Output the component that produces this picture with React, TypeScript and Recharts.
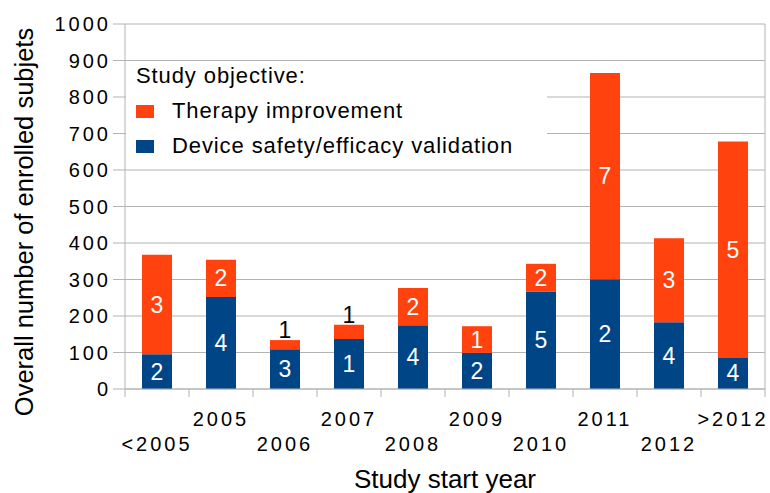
import React from 'react';
import {
  BarChart,
  Bar,
  XAxis,
  YAxis,
  CartesianGrid,
  Legend,
  LabelList,
  Label,
} from 'recharts';

// Values
const years = ['<2005', '2005', '2006', '2007', '2008', '2009', '2010', '2011', '2012', '>2012'];
const deviceSubjects = [95, 252, 109, 137, 175, 99, 267, 301, 183, 85];
const therapySubjects = [273, 102, 25, 39, 102, 73, 76, 565, 230, 593];
const deviceStudies = [2, 4, 3, 1, 4, 2, 5, 2, 4, 4];
const therapyStudies = [3, 2, 1, 1, 2, 1, 2, 7, 3, 5];
const yTicks = [0, 100, 200, 300, 400, 500, 600, 700, 800, 900, 1000];

const BLUE = '#004586';
const ORANGE = '#ff420e';
const GRID = '#b3b3b3';
const FONT = '"Liberation Sans", Arial, sans-serif';
const TICK_SPACING = 3;

const data = years.map((year, i) => ({
  year,
  device: deviceSubjects[i],
  therapy: therapySubjects[i],
  deviceCount: deviceStudies[i],
  therapyCount: therapyStudies[i],
}));

const HALF_BAND = 32;

// staggered year labels, tick marks sit on the band edges
function YearTick(props: any) {
  const { x, y, payload, index } = props;
  const upper = index % 2 === 1;
  return (
    <g>
      <line x1={x - HALF_BAND} y1={y} x2={x - HALF_BAND} y2={y + 8} stroke={GRID} />
      {index === years.length - 1 && (
        <line x1={x + HALF_BAND} y1={y} x2={x + HALF_BAND} y2={y + 8} stroke={GRID} />
      )}
      <text
        x={x}
        y={y + (upper ? 37 : 62)}
        textAnchor="middle"
        fontFamily={FONT}
        fontSize={20}
        letterSpacing={TICK_SPACING}
        fill="#000"
      >
        {payload.value}
      </text>
    </g>
  );
}

function CountLabel(props: any) {
  const { x, y, width, height, value } = props;
  if (value == null) return null;
  const cx = x + width / 2;
  if (height < 26) {
    return (
      <text x={cx} y={y - 2} textAnchor="middle" fontFamily={FONT} fontSize={23} fill="#000">
        {value}
      </text>
    );
  }
  return (
    <text
      x={cx}
      y={y + height / 2 + 8}
      textAnchor="middle"
      fontFamily={FONT}
      fontSize={23}
      fill="#fff"
    >
      {value}
    </text>
  );
}

function LegendBox() {
  const row = (color: string, text: string, top: number) => (
    <div style={{ position: 'absolute', left: 10, top, display: 'flex', alignItems: 'center' }}>
      <span style={{ display: 'inline-block', width: 18, height: 13, background: color, marginRight: 18 }} />
      <span>{text}</span>
    </div>
  );
  return (
    <div
      style={{
        position: 'relative',
        width: 421,
        height: 98,
        background: '#fff',
        fontFamily: FONT,
        fontSize: 22,
        letterSpacing: 0.9,
        color: '#000',
        lineHeight: '24px',
      }}
    >
      <div style={{ position: 'absolute', left: 10, top: 2 }}>Study objective:</div>
      {row(ORANGE, 'Therapy improvement', 37)}
      {row(BLUE, 'Device safety/efficacy validation', 72)}
    </div>
  );
}

export default function App() {
  return (
    <div style={{ position: 'absolute', left: 0, top: 0, background: '#fff' }}>
      <BarChart
        width={770}
        height={493}
        data={data}
        margin={{ top: 24, right: 0, left: 0, bottom: 0 }}
        barSize={30}
      >
        <CartesianGrid vertical={false} stroke={GRID} yAxisId="left" />
        <XAxis
          dataKey="year"
          height={104}
          tickSize={0}
          tickLine={false}
          tickMargin={0}
          interval={0}
          axisLine={{ stroke: GRID }}
          tick={<YearTick />}
        >
          <Label
            value="Study start year"
            position="insideBottom"
            offset={5}
            fontFamily={FONT}
            fontSize={26}
            fill="#000"
          />
        </XAxis>
        <YAxis
          yAxisId="left"
          width={125}
          domain={[0, 1000]}
          ticks={yTicks}
          interval={0}
          tickSize={12}
          tickMargin={2}
          axisLine={{ stroke: GRID }}
          tickLine={{ stroke: GRID }}
          tick={{ fill: '#000', fontFamily: FONT, fontSize: 20, letterSpacing: TICK_SPACING }}
        >
          <Label
            content={(p: any) => {
              const vb = p.viewBox;
              const cx = vb.x + 33;
              const cy = 222;
              return (
                <text
                  x={cx}
                  y={cy}
                  transform={`rotate(-90, ${cx}, ${cy})`}
                  textAnchor="middle"
                  fontFamily={FONT}
                  fontSize={25.5}
                  fill="#000"
                >
                  Overall number of enrolled subjets
                </text>
              );
            }}
          />
        </YAxis>
        <YAxis
          yAxisId="right"
          orientation="right"
          width={5}
          domain={[0, 1000]}
          tick={false}
          tickLine={false}
          axisLine={{ stroke: GRID }}
        />
        <Legend
          layout="horizontal"
          verticalAlign="middle"
          align="center"
          wrapperStyle={{ left: 126, top: 62, width: 421, height: 98 }}
          content={() => <LegendBox />}
        />
        <Bar
          yAxisId="left"
          dataKey="device"
          stackId="s"
          fill={BLUE}
          name="Device safety/efficacy validation"
          isAnimationActive={false}
        >
          <LabelList dataKey="deviceCount" content={<CountLabel />} />
        </Bar>
        <Bar
          yAxisId="left"
          dataKey="therapy"
          stackId="s"
          fill={ORANGE}
          name="Therapy improvement"
          isAnimationActive={false}
        >
          <LabelList dataKey="therapyCount" content={<CountLabel />} />
        </Bar>
      </BarChart>
    </div>
  );
}
